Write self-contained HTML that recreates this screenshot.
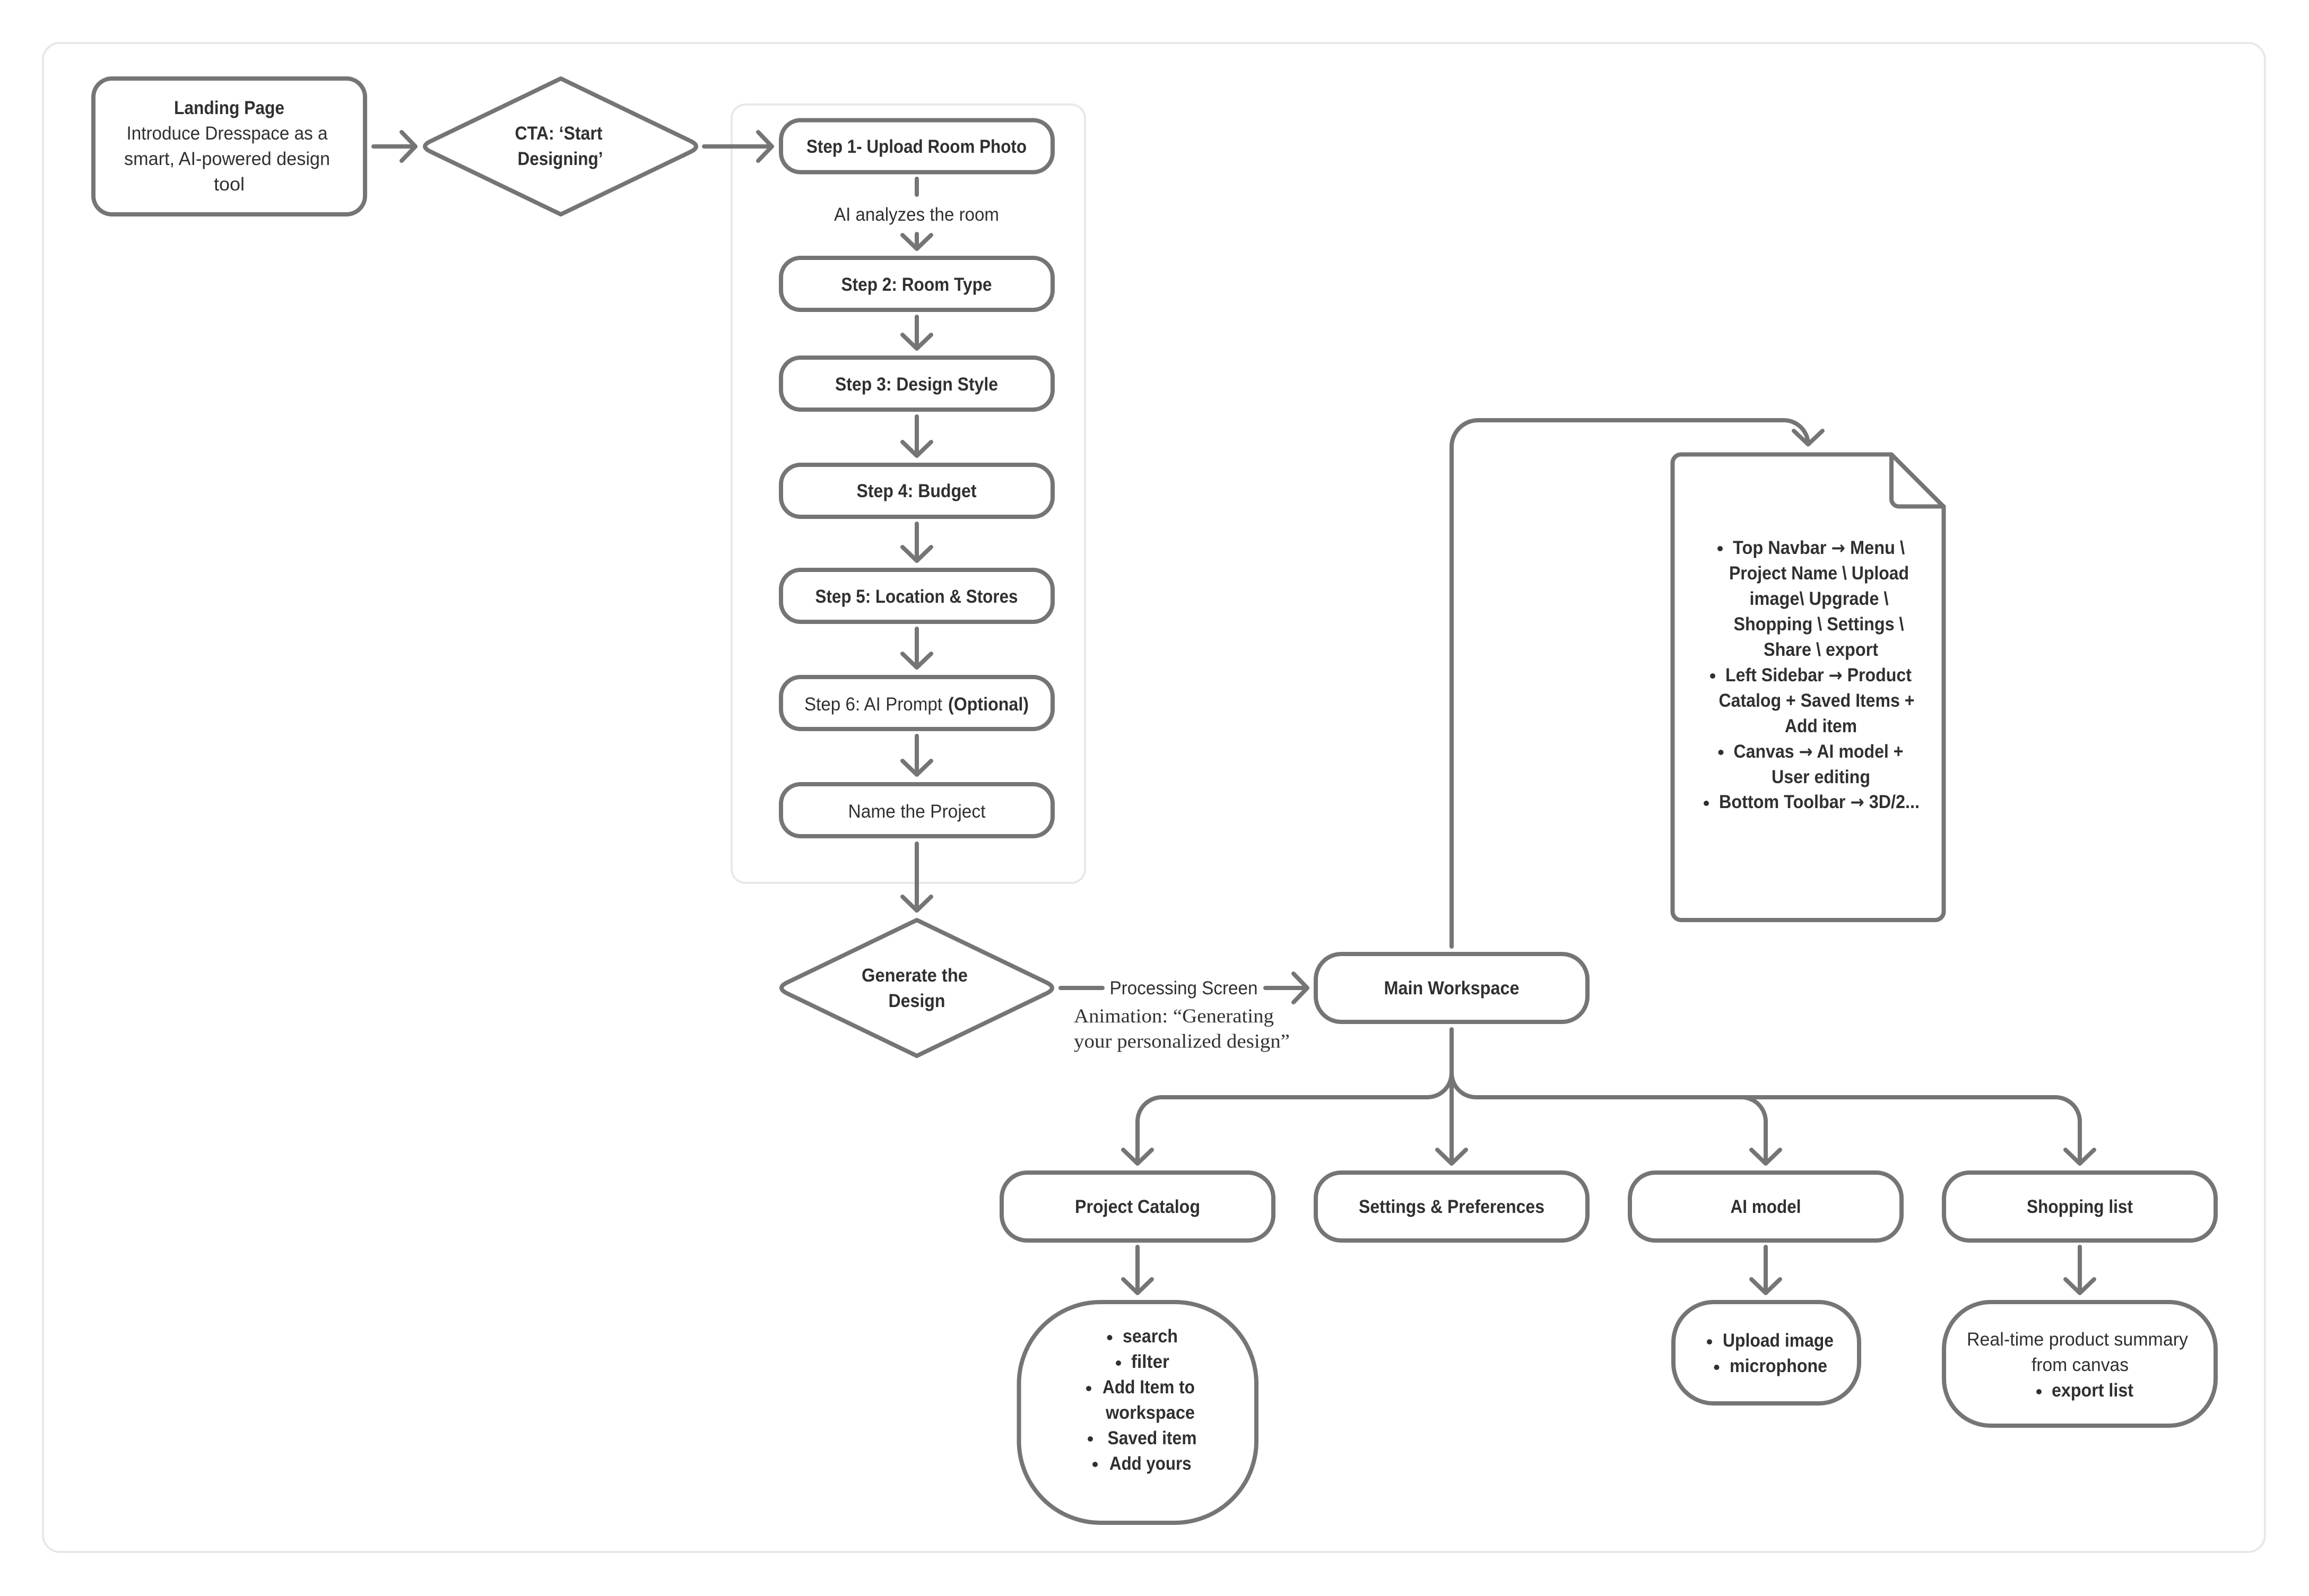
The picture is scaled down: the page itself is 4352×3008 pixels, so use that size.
<!DOCTYPE html>
<html><head><meta charset="utf-8"><style>
html,body{margin:0;padding:0;background:#fff}
svg{display:block}
text{font-family:"Liberation Sans",sans-serif;font-size:35px;fill:#303030}
.b{font-weight:bold}
.s{font-family:"Liberation Serif",serif;font-size:37px;fill:#333}
.c{text-anchor:middle}
.a{font-family:"DejaVu Sans",sans-serif;font-size:34px}
.f{fill:none;stroke:#e8e8e8;stroke-width:4}
.n{fill:#fff;stroke:#757575;stroke-width:8;stroke-linejoin:round}
.l{fill:none;stroke:#757575;stroke-width:8;stroke-linecap:round;stroke-linejoin:round}
circle{fill:#303030}
</style></head><body>
<svg width="4352" height="3008" viewBox="0 0 4352 3008" xmlns="http://www.w3.org/2000/svg">
<rect width="4352" height="3008" fill="#fff"/>
<rect class="f" x="81" y="81" width="4188" height="2844" rx="32"/>
<rect class="f" x="1379" y="197" width="666" height="1467" rx="26"/>

<!-- nodes -->
<rect class="n" x="176" y="148" width="512" height="256" rx="35"/>
<path class="n" d="M1057,148 L1302,266 Q1322,276 1302,286 L1057,404 L812,286 Q790,276 812,266 Z"/>
<rect class="n" x="1472" y="226.500" width="512" height="98" rx="37"/>
<rect class="n" x="1472" y="486" width="512" height="98" rx="37"/>
<rect class="n" x="1472" y="674" width="512" height="98" rx="37"/>
<rect class="n" x="1472" y="876" width="512" height="98" rx="37"/>
<rect class="n" x="1472" y="1074" width="512" height="98" rx="37"/>
<rect class="n" x="1472" y="1276" width="512" height="98" rx="37"/>
<rect class="n" x="1472" y="1478" width="512" height="98" rx="37"/>
<path class="n" d="M1728,1734 L1973,1852 Q1993,1862 1973,1872 L1728,1990 L1483,1872 Q1463,1862 1483,1852 Z"/>
<rect class="n" x="2480" y="1798" width="512" height="128" rx="48"/>
<rect class="n" x="1888" y="2210" width="512" height="128" rx="48"/>
<rect class="n" x="2480" y="2210" width="512" height="128" rx="48"/>
<rect class="n" x="3072" y="2210" width="512" height="128" rx="48"/>
<rect class="n" x="3664" y="2210" width="512" height="128" rx="48"/>
<rect class="n" x="1920.500" y="2454" width="447.500" height="416" rx="154"/>
<rect class="n" x="3154" y="2454" width="350" height="191" rx="76"/>
<rect class="n" x="3664" y="2454" width="512" height="233" rx="88"/>
<path class="n" d="M3168.500,856.500 H3565 L3663.500,955 V1718 a16,16 0 0 1 -16,16 H3168.500 a16,16 0 0 1 -16,-16 V872.500 a16,16 0 0 1 16,-16 Z"/>
<path class="l" d="M3565,856.500 V940 a14,14 0 0 0 14,14.500 H3663.500"/>

<!-- connectors -->
<path class="l" d="M704,276 H783 M757,249 L783,276 L757,303"/>
<path class="l" d="M1327,276 H1455 M1429,249 L1455,276 L1429,303"/>
<path class="l" d="M1728,337 V367"/>
<path class="l" d="M1728,441 V469 M1701,443 L1728,469 L1755,443"/>
<path class="l" d="M1728,597 V657 M1701,631 L1728,657 L1755,631"/>
<path class="l" d="M1728,785 V859 M1701,833 L1728,859 L1755,833"/>
<path class="l" d="M1728,987 V1057 M1701,1031 L1728,1057 L1755,1031"/>
<path class="l" d="M1728,1185 V1258 M1701,1232 L1728,1258 L1755,1232"/>
<path class="l" d="M1728,1387 V1460 M1701,1434 L1728,1460 L1755,1434"/>
<path class="l" d="M1728,1590 V1716 M1701,1690 L1728,1716 L1755,1690"/>
<path class="l" d="M1999,1862 H2078"/>
<path class="l" d="M2385,1862 H2464 M2438,1835 L2464,1862 L2438,1889"/>
<path class="l" d="M2736,1784 V842 A50,50 0 0 1 2786,792 H3362 A46,46 0 0 1 3408,837 M3381,812 L3408,837.500 L3435,812"/>
<path class="l" d="M2736,1940 V2193 M2709,2167 L2736,2193 L2763,2167"/>
<path class="l" d="M2736,2022 A46,46 0 0 1 2690,2068 H2190 A46,46 0 0 0 2144,2114 V2193 M2117,2167 L2144,2193 L2171,2167"/>
<path class="l" d="M2736,2022 A46,46 0 0 0 2782,2068 H3282 A46,46 0 0 1 3328,2114 V2193 M3301,2167 L3328,2193 L3355,2167"/>
<path class="l" d="M3282,2068 H3874 A46,46 0 0 1 3920,2114 V2193 M3893,2167 L3920,2193 L3947,2167"/>
<path class="l" d="M2144,2350 V2437 M2117,2411 L2144,2437 L2171,2411"/>
<path class="l" d="M3328,2350 V2437 M3301,2411 L3328,2437 L3355,2411"/>
<path class="l" d="M3920,2350 V2437 M3893,2411 L3920,2437 L3947,2411"/>

<!-- labels -->
<text class="b c" x="432" y="215" textLength="208" lengthAdjust="spacingAndGlyphs">Landing Page</text>
<text class="c" x="428" y="263" textLength="379" lengthAdjust="spacingAndGlyphs">Introduce Dresspace as a</text>
<text class="c" x="428" y="311" textLength="388" lengthAdjust="spacingAndGlyphs">smart, AI-powered design</text>
<text class="c" x="432" y="359" textLength="58" lengthAdjust="spacingAndGlyphs">tool</text>
<text class="b c" x="1053" y="263" textLength="165" lengthAdjust="spacingAndGlyphs">CTA: ‘Start</text>
<text class="b c" x="1056" y="311" textLength="161" lengthAdjust="spacingAndGlyphs">Designing’</text>
<text class="b c" x="1727.500" y="288" textLength="415" lengthAdjust="spacingAndGlyphs">Step 1- Upload Room Photo</text>
<text class="c" x="1727.500" y="416" textLength="311" lengthAdjust="spacingAndGlyphs">AI analyzes the room</text>
<text class="b c" x="1727.500" y="548" textLength="284" lengthAdjust="spacingAndGlyphs">Step 2: Room Type</text>
<text class="b c" x="1727.500" y="736" textLength="307" lengthAdjust="spacingAndGlyphs">Step 3: Design Style</text>
<text class="b c" x="1727.500" y="937" textLength="226" lengthAdjust="spacingAndGlyphs">Step 4: Budget</text>
<text class="b c" x="1727.500" y="1136" textLength="382" lengthAdjust="spacingAndGlyphs">Step 5: Location &amp; Stores</text>
<text x="1516" y="1339" textLength="260" lengthAdjust="spacingAndGlyphs">Step 6: AI Prompt</text>
<text class="b" x="1787" y="1339" textLength="152" lengthAdjust="spacingAndGlyphs">(Optional)</text>
<text class="c" x="1728" y="1541" textLength="259" lengthAdjust="spacingAndGlyphs">Name the Project</text>
<text class="b c" x="1724" y="1850" textLength="200" lengthAdjust="spacingAndGlyphs">Generate the</text>
<text class="b c" x="1728" y="1898" textLength="107" lengthAdjust="spacingAndGlyphs">Design</text>
<text class="c" x="2231" y="1874" textLength="279" lengthAdjust="spacingAndGlyphs">Processing Screen</text>
<text class="s" x="2024" y="1927" textLength="377" lengthAdjust="spacingAndGlyphs">Animation: “Generating</text>
<text class="s" x="2024" y="1974.500" textLength="407" lengthAdjust="spacingAndGlyphs">your personalized design”</text>
<text class="b c" x="2736" y="1874" textLength="255" lengthAdjust="spacingAndGlyphs">Main Workspace</text>

<circle cx="3242" cy="1034" r="5"/>
<text class="b" x="3266" y="1044" textLength="324" lengthAdjust="spacingAndGlyphs">Top Navbar <tspan class="a">→</tspan> Menu \</text>
<text class="b" x="3259" y="1092" textLength="339" lengthAdjust="spacingAndGlyphs">Project Name \ Upload</text>
<text class="b" x="3297.500" y="1140" textLength="262" lengthAdjust="spacingAndGlyphs">image\ Upgrade \</text>
<text class="b" x="3267.500" y="1188" textLength="321" lengthAdjust="spacingAndGlyphs">Shopping \ Settings \</text>
<text class="b" x="3324" y="1236" textLength="216" lengthAdjust="spacingAndGlyphs">Share \ export</text>
<circle cx="3228" cy="1274" r="5"/>
<text class="b" x="3252" y="1284" textLength="351" lengthAdjust="spacingAndGlyphs">Left Sidebar <tspan class="a">→</tspan> Product</text>
<text class="b" x="3239.500" y="1332" textLength="369" lengthAdjust="spacingAndGlyphs">Catalog + Saved Items +</text>
<text class="b" x="3364" y="1380" textLength="136" lengthAdjust="spacingAndGlyphs">Add item</text>
<circle cx="3243.500" cy="1418" r="5"/>
<text class="b" x="3267.500" y="1428" textLength="320" lengthAdjust="spacingAndGlyphs">Canvas <tspan class="a">→</tspan> AI model +</text>
<text class="b" x="3339" y="1476" textLength="186" lengthAdjust="spacingAndGlyphs">User editing</text>
<circle cx="3216" cy="1514" r="5"/>
<text class="b" x="3240" y="1523" textLength="378" lengthAdjust="spacingAndGlyphs">Bottom Toolbar <tspan class="a">→</tspan> 3D/2...</text>

<text class="b c" x="2144" y="2286" textLength="236" lengthAdjust="spacingAndGlyphs">Project Catalog</text>
<text class="b c" x="2736" y="2286" textLength="350" lengthAdjust="spacingAndGlyphs">Settings &amp; Preferences</text>
<text class="b c" x="3328" y="2286" textLength="133" lengthAdjust="spacingAndGlyphs">AI model</text>
<text class="b c" x="3920" y="2286" textLength="200" lengthAdjust="spacingAndGlyphs">Shopping list</text>

<circle cx="2091.500" cy="2521" r="5"/>
<text class="b" x="2116" y="2530" textLength="104" lengthAdjust="spacingAndGlyphs">search</text>
<circle cx="2108" cy="2569" r="5"/>
<text class="b" x="2132" y="2578" textLength="72" lengthAdjust="spacingAndGlyphs">filter</text>
<circle cx="2052" cy="2617" r="5"/>
<text class="b" x="2078" y="2626" textLength="174" lengthAdjust="spacingAndGlyphs">Add Item to</text>
<text class="b" x="2084" y="2674" textLength="168" lengthAdjust="spacingAndGlyphs">workspace</text>
<circle cx="2055" cy="2712" r="5"/>
<text class="b" x="2087.500" y="2722" textLength="168" lengthAdjust="spacingAndGlyphs">Saved item</text>
<circle cx="2064" cy="2760" r="5"/>
<text class="b" x="2091" y="2770" textLength="154.500" lengthAdjust="spacingAndGlyphs">Add yours</text>

<circle cx="3222" cy="2529" r="5"/>
<text class="b" x="3247" y="2538" textLength="209" lengthAdjust="spacingAndGlyphs">Upload image</text>
<circle cx="3235.500" cy="2577" r="5"/>
<text class="b" x="3260" y="2586" textLength="184" lengthAdjust="spacingAndGlyphs">microphone</text>

<text x="3707" y="2536" textLength="417" lengthAdjust="spacingAndGlyphs">Real-time product summary</text>
<text x="3829" y="2584" textLength="183" lengthAdjust="spacingAndGlyphs">from canvas</text>
<circle cx="3843" cy="2623" r="5"/>
<text class="b" x="3867" y="2632" textLength="154" lengthAdjust="spacingAndGlyphs">export list</text>
</svg>
</body></html>
